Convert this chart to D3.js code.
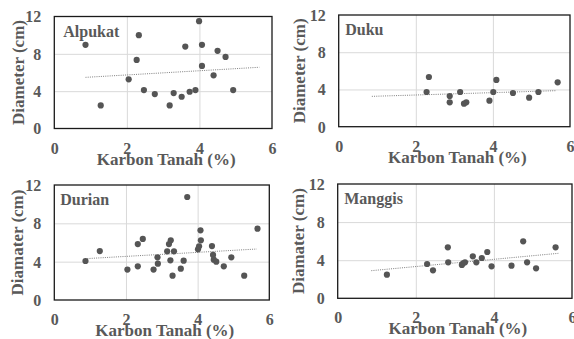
<!DOCTYPE html>
<html>
<head>
<meta charset="utf-8">
<script src="https://cdn.jsdelivr.net/npm/d3@7"></script>
</head>
<body style="margin:0;background:#fff">
<svg id="chart" width="574" height="339"></svg>
<script>
// tick labels
const xTicks = [0, 2, 4, 6]
const yTicks = [0, 4, 8, 12]

// Alpukat
const alpukatX = [0.86, 1.28, 2.05, 2.27, 2.33, 2.47, 2.77, 3.18, 3.29, 3.51, 3.61, 3.73, 3.89, 3.99, 4.07, 4.07, 4.39, 4.50, 4.72, 4.93]
const alpukatY = [8.96, 2.47, 5.27, 7.35, 10.0, 4.12, 3.69, 2.47, 3.80, 3.40, 8.78, 3.94, 4.12, 11.5, 8.96, 6.70, 5.70, 8.32, 7.67, 4.12]

// Duku
const dukuX = [2.34, 2.28, 2.88, 2.88, 3.15, 3.25, 3.31, 3.91, 4.01, 4.09, 4.52, 4.94, 5.18, 5.68]
const dukuY = [5.34, 3.73, 3.30, 2.62, 3.73, 2.47, 2.62, 2.80, 3.73, 5.02, 3.62, 3.12, 3.73, 4.77]

// Durian
const durianX = [0.87, 1.27, 2.04, 2.33, 2.33, 2.47, 2.77, 2.88, 2.89, 3.15, 3.20, 3.25, 3.24, 3.30, 3.34, 3.53, 3.61, 3.71, 4.01, 4.04, 4.08, 4.09, 4.40, 4.43, 4.45, 4.52, 4.73, 4.94, 5.30, 5.67]
const durianY = [4.07, 5.11, 3.17, 5.84, 3.51, 6.37, 3.17, 4.45, 3.79, 5.08, 5.84, 6.23, 4.14, 2.54, 5.08, 3.27, 4.10, 10.75, 5.29, 5.60, 7.27, 6.23, 5.63, 4.70, 4.21, 4.00, 3.51, 4.45, 2.54, 7.44]

// Manggis
const manggisX = [1.26, 2.29, 2.44, 2.82, 2.83, 3.18, 3.21, 3.26, 3.46, 3.55, 3.69, 3.83, 3.94, 4.45, 4.75, 4.85, 5.08, 5.58]
const manggisY = [2.48, 3.60, 2.94, 5.35, 3.78, 3.50, 3.67, 3.78, 4.41, 3.78, 4.23, 4.86, 3.36, 3.43, 5.98, 3.78, 3.15, 5.35]

// trendline end points
const trendX = [0.86, 5.65]
const alpukatTrend = [5.48, 6.56]
const dukuTrend = [3.26, 3.87]
const durianTrend = [4.31, 5.32]
const manggisTrend = [2.90, 4.72]

const FONT = 'Liberation Serif'
const textColor = '#595959'
const pointColor = '#555555'

const panels = [
    { name: 'Alpukat', yTitle: 'Diameter (cm)', xs: alpukatX, ys: alpukatY, trend: alpukatTrend,
      box: { left: 54.3, right: 272, top: 16.5, bottom: 128.5 }, yTitleX: 18.5, titleX: 9 },
    { name: 'Duku', yTitle: 'Diameter (cm)', xs: dukuX, ys: dukuY, trend: dukuTrend,
      box: { left: 338.7, right: 570, top: 15, bottom: 126.7 }, yTitleX: 299, titleX: 6.5 },
    { name: 'Durian', yTitle: 'Diamater (cm)', xs: durianX, ys: durianY, trend: durianTrend,
      box: { left: 54.3, right: 269.3, top: 185, bottom: 300 }, yTitleX: 17.5, titleX: 6 },
    { name: 'Manggis', yTitle: 'Diamater (cm)', xs: manggisX, ys: manggisY, trend: manggisTrend,
      box: { left: 337.7, right: 572, top: 184, bottom: 298.3 }, yTitleX: 298, titleX: 6.5 },
]

const svg = d3.select('#chart')
    .attr('font-family', FONT)
    .attr('font-weight', 'bold')

const styleText = (sel, size) => sel
    .attr('font-family', FONT)
    .attr('font-weight', 'bold')
    .attr('font-size', size)
    .attr('fill', textColor)

const drawPanel = (p) => {
    const { left, right, top, bottom } = p.box
    const width = right - left
    const height = bottom - top

    const xScale = d3.scaleLinear().domain([0, 6]).range([0, width])
    const yScale = d3.scaleLinear().domain([0, 12]).range([height, 0])

    const g = svg.append('g').attr('transform', `translate(${ left },${ top })`)

    // grid
    g.append('g')
        .attr('transform', `translate(0,${ height })`)
        .call(d3.axisBottom(xScale).tickValues([2, 4]).tickSize(-height).tickFormat(() => ''))
        .call(a => a.select('.domain').remove())
        .selectAll('line').attr('stroke', '#d9d9d9').attr('stroke-width', 1)
    g.append('g')
        .call(d3.axisLeft(yScale).tickValues([4, 8]).tickSize(-width).tickFormat(() => ''))
        .call(a => a.select('.domain').remove())
        .selectAll('line').attr('stroke', '#d9d9d9').attr('stroke-width', 1)

    // tick labels
    const xAxis = g.append('g')
        .attr('transform', `translate(0,${ height })`)
        .call(d3.axisBottom(xScale).tickValues(xTicks).tickSize(0).tickFormat(d3.format('d')))
    xAxis.select('.domain').remove()
    xAxis.selectAll('text')
        .attr('y', 25).attr('dy', null)
        .call(styleText, 16)

    const yAxis = g.append('g')
        .call(d3.axisLeft(yScale).tickValues(yTicks).tickSize(0).tickPadding(13).tickFormat(d3.format('d')))
    yAxis.select('.domain').remove()
    yAxis.selectAll('text')
        .attr('dy', '0.34em')
        .call(styleText, 16)

    // trendline
    const line = d3.line().x(d => xScale(d[0])).y(d => yScale(d[1]))
    g.append('path')
        .datum(trendX.map((x, i) => [x, p.trend[i]]))
        .attr('fill', 'none')
        .attr('stroke', '#7f7f7f')
        .attr('stroke-width', 1)
        .attr('stroke-dasharray', '1,1.2')
        .attr('d', line)

    // points
    g.append('g').selectAll('circle')
        .data(p.xs.map((x, i) => [x, p.ys[i]]))
        .join('circle')
        .attr('cx', d => xScale(d[0]))
        .attr('cy', d => yScale(d[1]))
        .attr('r', 3.1)
        .attr('fill', pointColor)

    // border
    g.append('rect')
        .attr('width', width).attr('height', height)
        .attr('fill', 'none').attr('stroke', '#1a1a1a').attr('stroke-width', 1.3)

    // panel title
    g.append('text')
        .attr('x', p.titleX)
        .attr('y', 20)
        .call(styleText, 16)
        .text(p.name)

    // axis titles
    g.append('text')
        .attr('x', width / 2 + 3)
        .attr('y', height + 36)
        .attr('text-anchor', 'middle')
        .call(styleText, 17)
        .text('Karbon Tanah (%)')

    svg.append('text')
        .attr('transform', `translate(${ p.yTitleX },${ top + height / 2 }) rotate(-90)`)
        .attr('dy', '0.35em')
        .attr('text-anchor', 'middle')
        .call(styleText, 17)
        .text(p.yTitle)
}

panels.forEach(drawPanel)
</script>
</body>
</html>
